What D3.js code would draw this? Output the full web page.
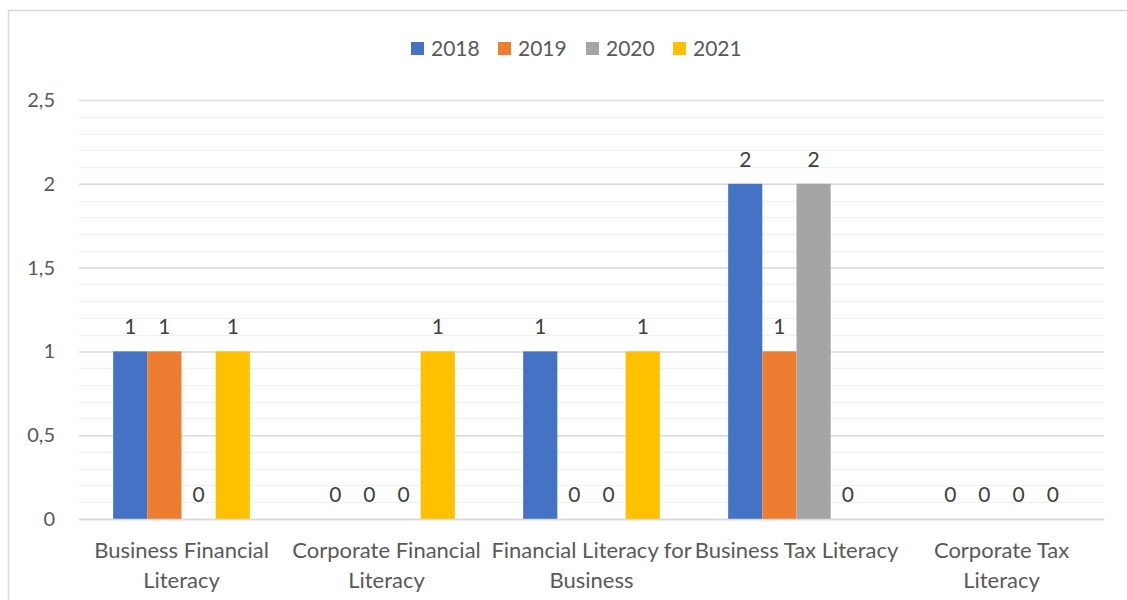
<!DOCTYPE html>
<html>
<head>
<meta charset="utf-8">
<script src="https://cdn.jsdelivr.net/npm/d3@7/dist/d3.min.js"></script>
<style>
  html, body { margin: 0; padding: 0; background: #fff; }
  svg { display: block; font-family: Lato, "Open Sans", sans-serif; }
</style>
</head>
<body>
<svg id="chart" width="1127" height="600"></svg>
<script>
// Publications per topic and year
const categories = [
  "Business Financial Literacy",
  "Corporate Financial Literacy",
  "Financial Literacy for Business",
  "Business Tax Literacy",
  "Corporate Tax Literacy"
];
// How each category label breaks across lines under the axis
const categoryLines = [
  ["Business Financial", "Literacy"],
  ["Corporate Financial", "Literacy"],
  ["Financial Literacy for", "Business"],
  ["Business Tax Literacy"],
  ["Corporate Tax", "Literacy"]
];
const years = ["2018", "2019", "2020", "2021"];
const values2018 = [1, 0, 1, 2, 0];
const values2019 = [1, 0, 0, 1, 0];
const values2020 = [0, 0, 0, 2, 0];
const values2021 = [1, 1, 1, 0, 0];
const yTicks = [0, 0.5, 1, 1.5, 2, 2.5];
const colors = ["#4472c4", "#ed7d31", "#a5a5a5", "#ffc000"];

const series = [values2018, values2019, values2020, values2021];
const rows = categories.map((c, i) => ({
  category: c,
  values: years.map((y, j) => ({ year: y, value: series[j][i] }))
}));

const svg = d3.select("#chart");
const textColor = "#595959";

// Outer chart frame
svg.append("rect")
  .attr("x", 8.5).attr("y", 10.5)
  .attr("width", 1300).attr("height", 800)
  .attr("fill", "#fff").attr("stroke", "#d9d9d9").attr("stroke-width", 1.5);

const plot = { left: 79, right: 1104, top: 100, bottom: 519 };

const x = d3.scaleBand()
  .domain(categories)
  .range([plot.left, plot.right])
  .paddingInner(0).paddingOuter(0);

const bandInner = d3.scaleBand()
  .domain(years)
  .range([0, x.bandwidth()])
  .paddingInner(0)
  .paddingOuter(1); // one bar width of space on each side

const y = d3.scaleLinear()
  .domain([0, 2.5])
  .range([plot.bottom, plot.top]);

const locale = d3.formatLocale({ decimal: ",", thousands: " ", grouping: [3], currency: ["", ""] });
const fmt = locale.format("~g");

// Minor gridlines every 0.1
const minorTicks = d3.range(0, 26).map(k => k / 10).filter(v => !yTicks.some(t => Math.abs(t - v) < 1e-9));
svg.append("g")
  .selectAll("line")
  .data(minorTicks)
  .join("line")
  .attr("x1", plot.left).attr("x2", plot.right)
  .attr("y1", d => Math.round(y(d)) + 0.5).attr("y2", d => Math.round(y(d)) + 0.5)
  .attr("stroke", "#f2f2f2").attr("stroke-width", 1.5);

// Major gridlines and y axis labels
const yAxis = d3.axisLeft(y)
  .tickValues(yTicks)
  .tickSize(-(plot.right - plot.left))
  .tickPadding(24)
  .tickFormat(fmt);

const gy = svg.append("g")
  .attr("transform", `translate(${plot.left},0)`)
  .call(yAxis);
gy.select(".domain").remove();
gy.selectAll(".tick line")
  .attr("stroke", "#d9d9d9").attr("stroke-width", 1.5);
gy.selectAll(".tick text")
  .attr("fill", textColor)
  .attr("font-size", 20)
  .attr("font-family", "Lato, 'Open Sans', sans-serif");

// Bars
const groups = svg.append("g")
  .selectAll("g")
  .data(rows)
  .join("g")
  .attr("transform", d => `translate(${x(d.category)},0)`);

groups.selectAll("rect")
  .data(d => d.values)
  .join("rect")
  .attr("x", d => bandInner(d.year))
  .attr("width", bandInner.bandwidth())
  .attr("y", d => y(d.value))
  .attr("height", d => y(0) - y(d.value))
  .attr("fill", (d, i) => colors[i]);

// Value labels
groups.selectAll("text")
  .data(d => d.values)
  .join("text")
  .attr("x", d => bandInner(d.year) + bandInner.bandwidth() / 2)
  .attr("y", d => y(d.value) - 17)
  .attr("text-anchor", "middle")
  .attr("fill", "#404040")
  .attr("font-size", 21)
  .text(d => fmt(d.value));

// Category labels
const xAxis = d3.axisBottom(x).tickSize(0).tickFormat("");
const gx = svg.append("g")
  .attr("transform", `translate(0,${plot.bottom})`)
  .call(xAxis);
gx.select(".domain").attr("stroke", "#d9d9d9").attr("stroke-width", 1.5);

gx.selectAll(".tick").each(function(d, i) {
  const t = d3.select(this).append("text")
    .attr("fill", textColor)
    .attr("font-size", 22)
    .attr("text-anchor", "middle")
    .attr("font-family", "Lato, 'Open Sans', sans-serif");
  categoryLines[i].forEach((line, k) => {
    t.append("tspan")
      .attr("x", 0)
      .attr("y", 39 + k * 30)
      .text(line);
  });
});

// Legend
const legendX = [411, 498, 586, 673];
const legend = svg.append("g")
  .selectAll("g")
  .data(years)
  .join("g")
  .attr("transform", (d, i) => `translate(${legendX[i]},42)`);
legend.append("rect")
  .attr("width", 13).attr("height", 13)
  .attr("fill", (d, i) => colors[i]);
legend.append("text")
  .attr("x", 20).attr("y", 13.5)
  .attr("fill", textColor)
  .attr("font-size", 21)
  .text(d => d);
</script>
</body>
</html>
